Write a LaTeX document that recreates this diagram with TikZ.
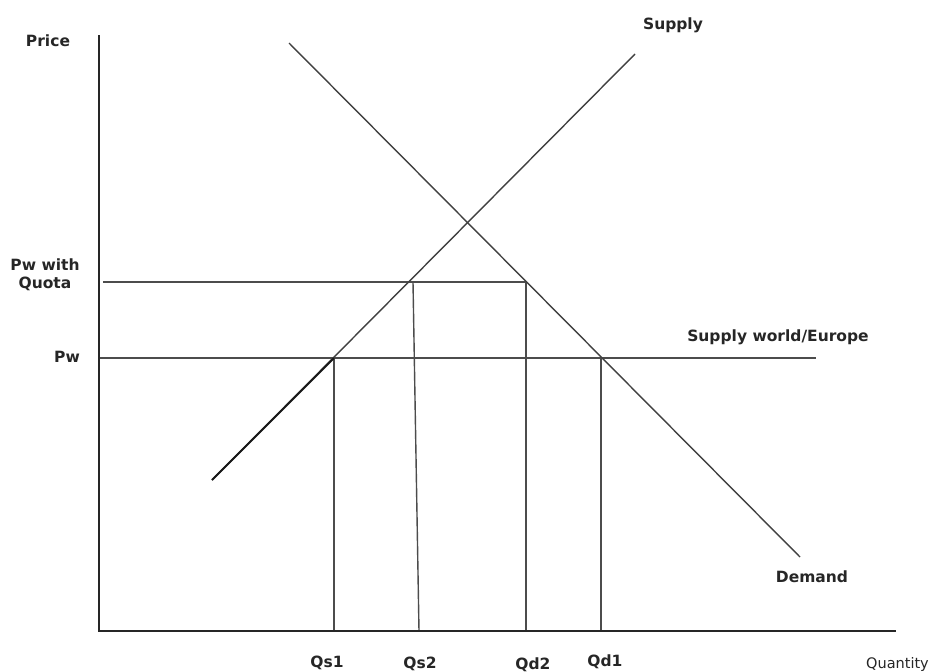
\documentclass[tikz,border=0pt]{standalone}
\usepackage{fontspec}
\setmainfont{DejaVu Sans}
\begin{document}
\begin{tikzpicture}[x=1pt,y=-1pt,
  axis/.style={line width=2.6pt,draw=black!85},
  curve/.style={line width=1.4pt,draw=black!75},
  guide/.style={line width=1.4pt,draw=black!70},
  lbl/.style={font=\fontsize{15.5}{17}\selectfont\bfseries,text=black!85,inner sep=0pt},
  qlbl/.style={font=\fontsize{14.5}{17}\selectfont,text=black!85,inner sep=0pt}]
\useasboundingbox (0,0) rectangle (930,672);
% coordinates
\coordinate (O) at (99,631);
\coordinate (Ytop) at (99,35);
\coordinate (Xend) at (896,631);
\coordinate (PwL) at (99,358);
\coordinate (PwR) at (816,358);
\coordinate (PqL) at (103,282);
\coordinate (PqR) at (527,282);
\coordinate (S0) at (212,480);
\coordinate (S1) at (635,54);
\coordinate (D0) at (289,43);
\coordinate (D1) at (800,557);
\coordinate (Qs1t) at (334,358);
\coordinate (Qs1b) at (334,631);
\coordinate (Qs2t) at (413,282);
\coordinate (Qs2b) at (419,631);
\coordinate (Qd2t) at (526,282);
\coordinate (Qd2b) at (526,631);
\coordinate (Qd1t) at (601,358);
\coordinate (Qd1b) at (601,631);
% guides
\draw[guide] (PwL) -- (PwR);
\draw[guide] (PqL) -- (PqR);
\draw[guide] (Qs1t) -- (Qs1b);
\draw[guide] (Qs2t) -- (Qs2b);
\draw[guide] (Qd2t) -- (Qd2b);
\draw[guide] (Qd1t) -- (Qd1b);
% curves
\draw[curve] (S0) -- (S1);
\draw[line width=2pt,draw=black!90] (S0) -- (Qs1t);
\draw[curve] (D0) -- (D1);
% axes
\draw[axis] (Ytop) -- (O) -- (Xend);
% labels
\node[lbl] (price) at (48,41) {Price};
\node[lbl,align=center] (pwq) at (45,275) {Pw with\\[1pt]Quota};
\node[lbl] (pw) at (67,357) {Pw};
\node[lbl] (supply) at (673,25) {Supply};
\node[lbl] (sw) at (778,337) {Supply world/Europe};
\node[lbl] (dem) at (812,577) {Demand};
\node[lbl] (qs1) at (327,663) {Qs1};
\node[lbl] (qs2) at (420,664) {Qs2};
\node[lbl] (qd2) at (533,665) {Qd2};
\node[lbl] (qd1) at (605,662) {Qd1};
\node[qlbl,anchor=east] (qty) at (929,664) {Quantity};
\end{tikzpicture}
\end{document}
